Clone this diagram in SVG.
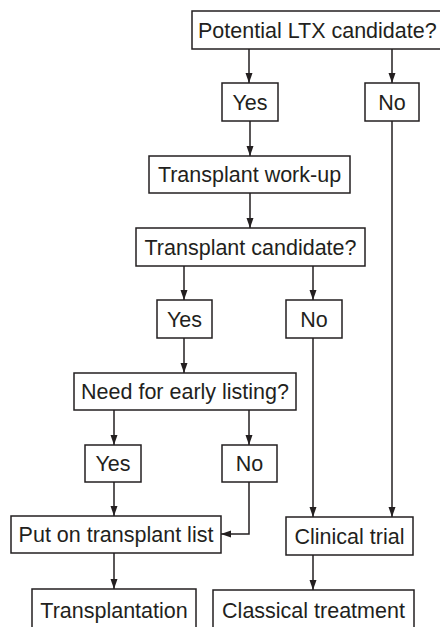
<svg xmlns="http://www.w3.org/2000/svg" width="440" height="627" viewBox="0 0 440 627">
<style>
rect.box{fill:#fff;stroke:#231f20;stroke-width:1.5}
text{font-family:"Liberation Sans",Arial,Helvetica,sans-serif;font-size:21.5px;fill:#231f20;text-anchor:middle}
#connectors path{fill:none;stroke:#231f20;stroke-width:1.5;marker-end:url(#ah)}
</style>
<defs>
<marker id="ah" markerUnits="userSpaceOnUse" markerWidth="10" markerHeight="8" refX="10" refY="3.5" orient="auto">
<path d="M0,0 L10,3.5 L0,7 z" fill="#231f20"/>
</marker>
</defs>
<rect width="440" height="627" fill="#fff"/>
<g id="connectors">
<path d="M249,49 V83"/>
<path d="M392,49 V83"/>
<path d="M250,121 V156"/>
<path d="M250,193 V228"/>
<path d="M184,266 V300"/>
<path d="M313,266 V300"/>
<path d="M184,338 V373"/>
<path d="M114,410 V445"/>
<path d="M249,410 V445"/>
<path d="M114,482 V516"/>
<path d="M249,482 V534 H221"/>
<path d="M313,338 V517"/>
<path d="M392,121 V517"/>
<path d="M114,553 V589"/>
<path d="M313,555 V590"/>
</g>
<g id="n1"><rect class="box" x="192" y="11" width="260" height="38"/><text x="198" y="37.7" style="text-anchor:start">Potential LTX candidate?</text></g>
<g id="n2"><rect class="box" x="222" y="83" width="56" height="38"/><text x="250" y="109.7">Yes</text></g>
<g id="n3"><rect class="box" x="365" y="83" width="54" height="38"/><text x="392" y="109.7">No</text></g>
<g id="n4"><rect class="box" x="149" y="156" width="201" height="37"/><text x="249.5" y="182.2">Transplant work-up</text></g>
<g id="n5"><rect class="box" x="136" y="228" width="229" height="38"/><text x="250.5" y="254.7">Transplant candidate?</text></g>
<g id="n6"><rect class="box" x="157" y="300" width="55" height="38"/><text x="184.5" y="326.7">Yes</text></g>
<g id="n7"><rect class="box" x="286" y="300" width="56" height="38"/><text x="314" y="326.7">No</text></g>
<g id="n8"><rect class="box" x="74" y="373" width="222" height="37"/><text x="185" y="399.2">Need for early listing?</text></g>
<g id="n9"><rect class="box" x="85" y="445" width="56" height="37"/><text x="113" y="471.2">Yes</text></g>
<g id="n10"><rect class="box" x="222" y="445" width="55" height="37"/><text x="249.5" y="471.2">No</text></g>
<g id="n11"><rect class="box" x="11" y="516" width="210" height="37"/><text x="116" y="542.2">Put on transplant list</text></g>
<g id="n12"><rect class="box" x="286" y="517" width="127" height="38"/><text x="349.5" y="543.7">Clinical trial</text></g>
<g id="n13"><rect class="box" x="32" y="589" width="164" height="45"/><text x="114" y="618">Transplantation</text></g>
<g id="n14"><rect class="box" x="213" y="590" width="201" height="45"/><text x="313.5" y="618">Classical treatment</text></g>
</svg>
